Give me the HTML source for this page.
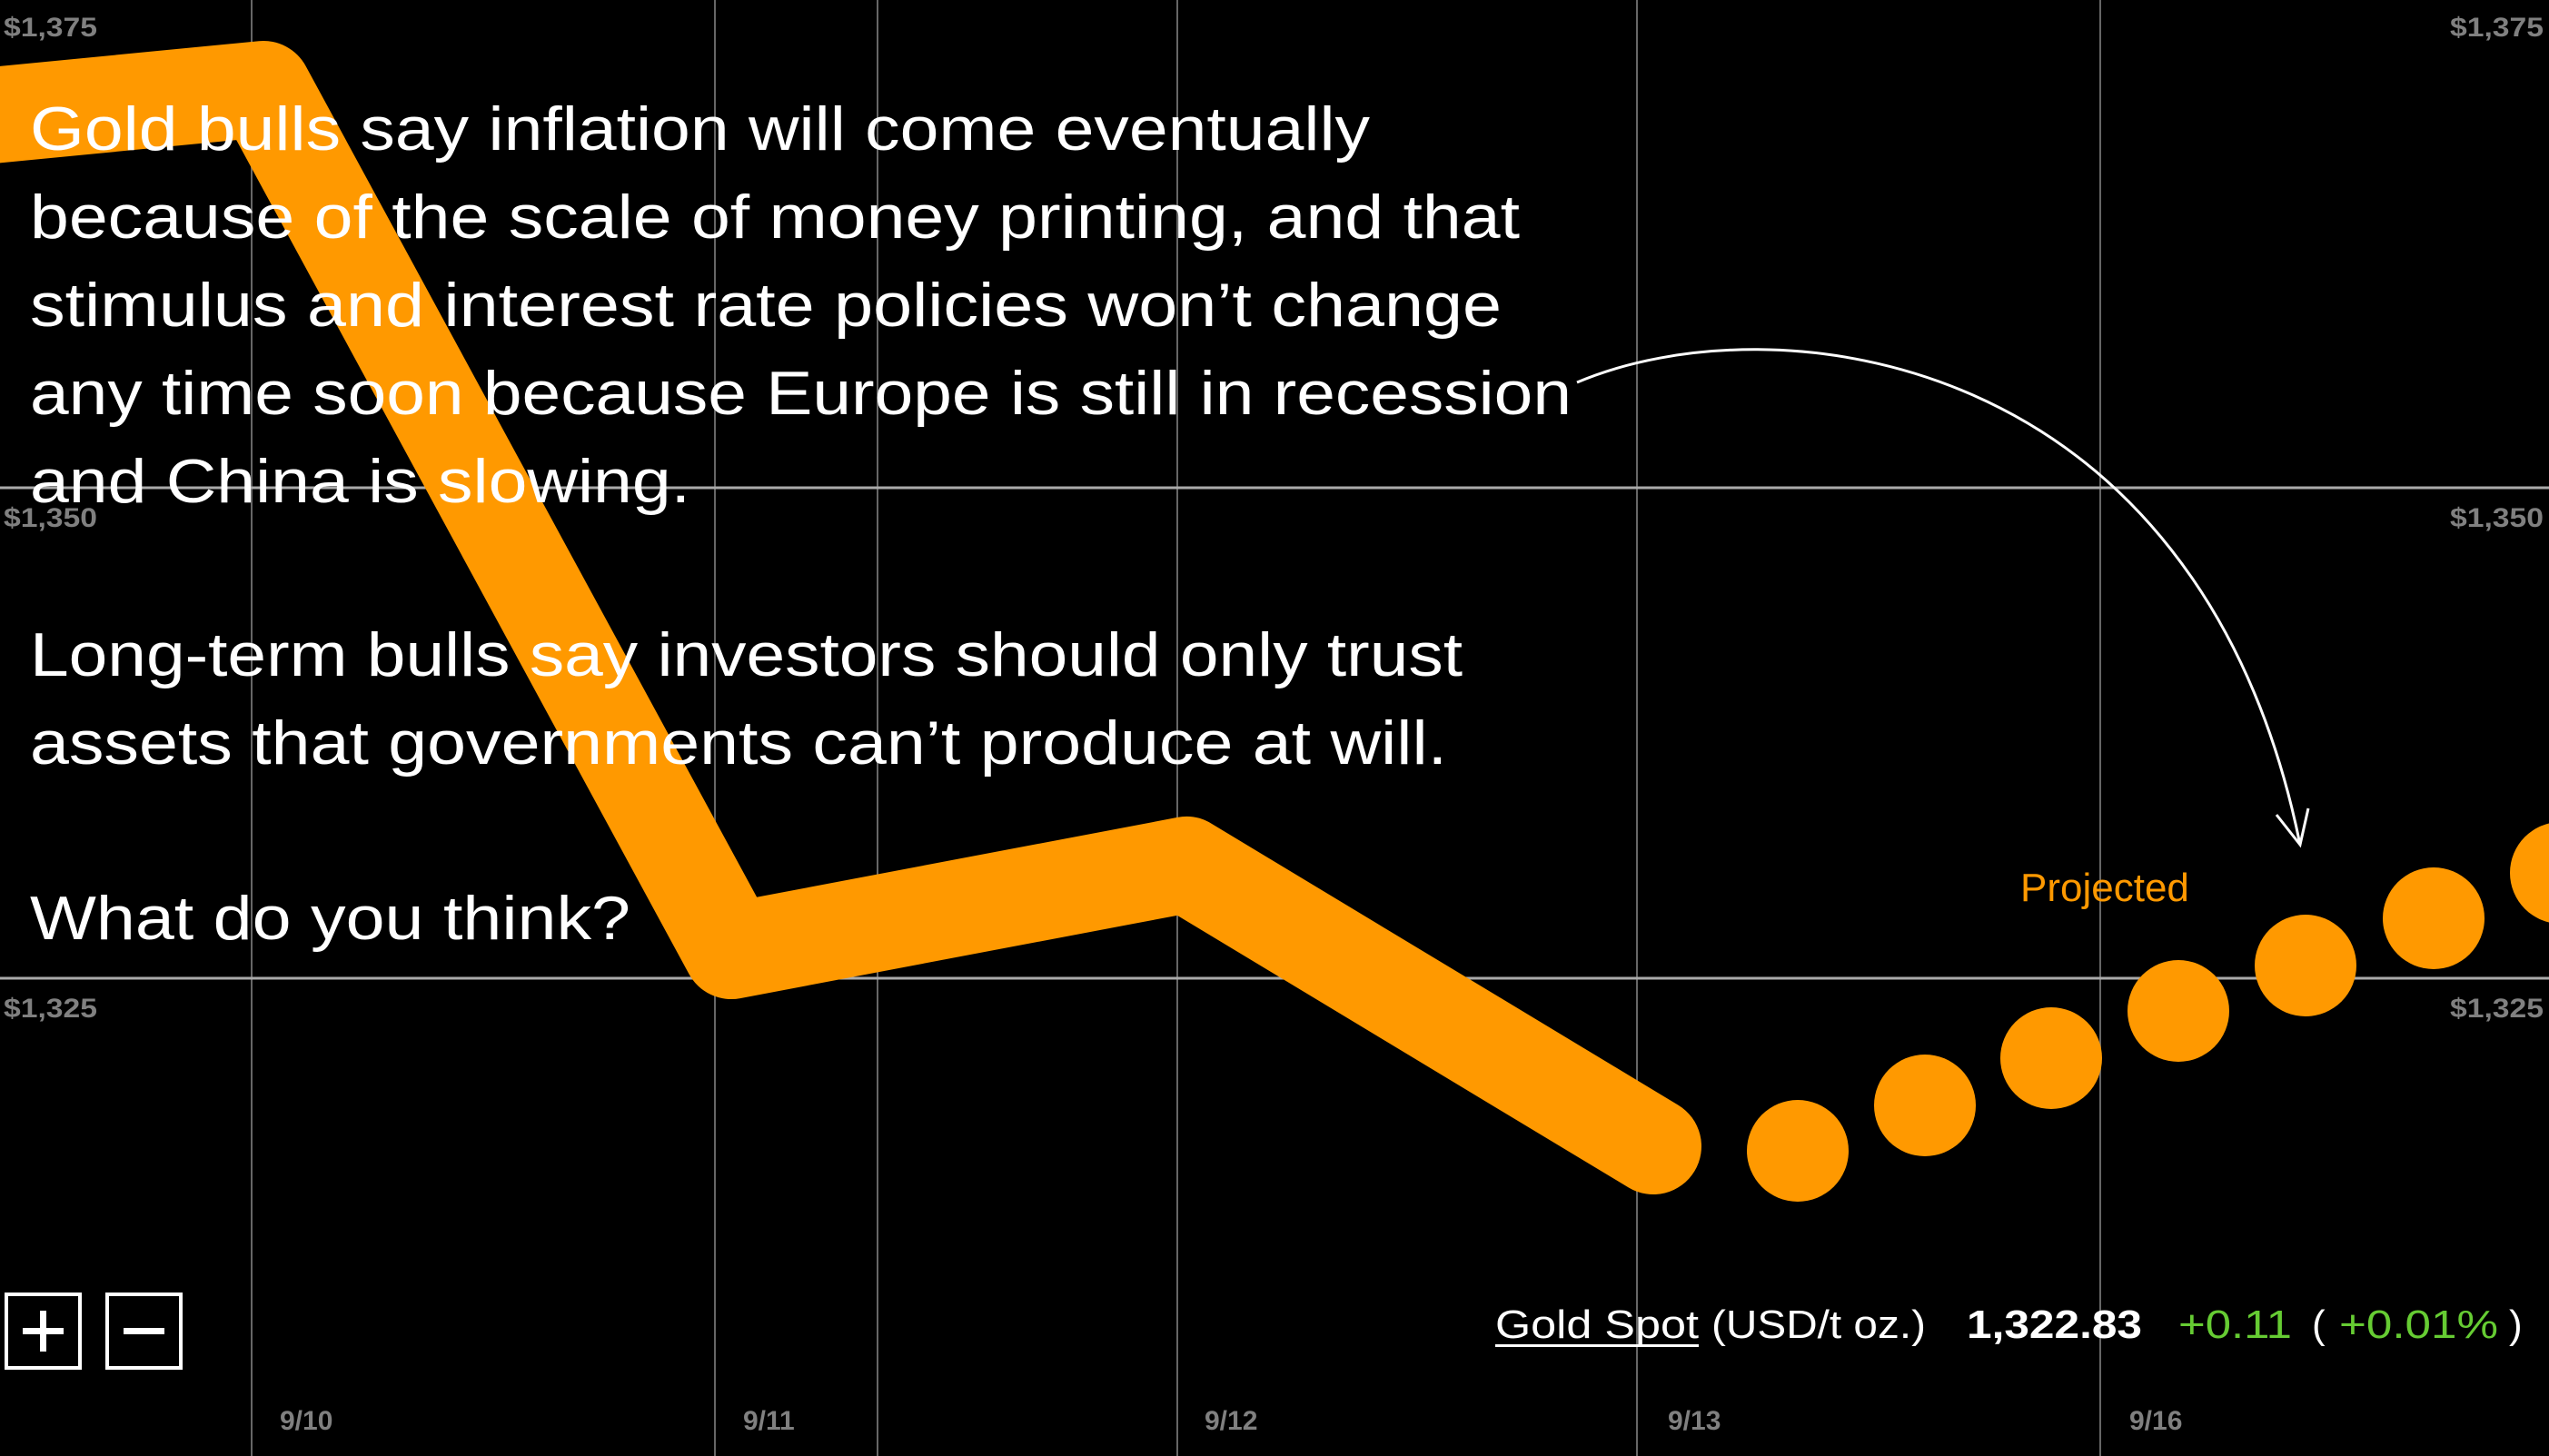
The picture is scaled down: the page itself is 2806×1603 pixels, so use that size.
<!DOCTYPE html>
<html><head><style>html,body{margin:0;padding:0;background:#000;}svg{display:block}</style></head>
<body>
<svg width="2806" height="1603" xmlns="http://www.w3.org/2000/svg" font-family="Liberation Sans, sans-serif">
<rect width="2806" height="1603" fill="#000"/>
<g stroke="#666" stroke-width="2">
<line x1="277" y1="0" x2="277" y2="1603"/><line x1="787" y1="0" x2="787" y2="1603"/>
<line x1="966" y1="0" x2="966" y2="1603"/><line x1="1296" y1="0" x2="1296" y2="1603"/>
<line x1="1802" y1="0" x2="1802" y2="1603"/><line x1="2312" y1="0" x2="2312" y2="1603"/>
</g>
<g stroke="#aaa" stroke-width="3">
<line x1="0" y1="537" x2="2806" y2="537"/><line x1="0" y1="1077" x2="2806" y2="1077"/>
</g>
<g fill="#808080" font-weight="bold" font-size="30">
<text x="4" y="40" textLength="103" lengthAdjust="spacingAndGlyphs">$1,375</text><text x="2697" y="40" textLength="103" lengthAdjust="spacingAndGlyphs">$1,375</text>
<text x="4" y="580" textLength="103" lengthAdjust="spacingAndGlyphs">$1,350</text><text x="2697" y="580" textLength="103" lengthAdjust="spacingAndGlyphs">$1,350</text>
<text x="4" y="1120" textLength="103" lengthAdjust="spacingAndGlyphs">$1,325</text><text x="2697" y="1120" textLength="103" lengthAdjust="spacingAndGlyphs">$1,325</text>
<text x="308" y="1574">9/10</text><text x="818" y="1574">9/11</text><text x="1326" y="1574">9/12</text><text x="1836" y="1574">9/13</text><text x="2344" y="1574">9/16</text>
</g>
<polyline points="-40,130 290,98 805,1047 1306,952 1820,1262" fill="none" stroke="#ff9900" stroke-width="106" stroke-linejoin="round" stroke-linecap="round"/>
<g fill="#ff9900">
<circle cx="1979" cy="1267" r="56"/><circle cx="2119" cy="1217" r="56"/><circle cx="2258" cy="1165" r="56"/>
<circle cx="2398" cy="1113" r="56"/><circle cx="2538" cy="1063" r="56"/><circle cx="2679" cy="1011" r="56"/>
<circle cx="2819" cy="961" r="56"/>
</g>
<text x="2224" y="992" fill="#ff9900" font-size="44">Projected</text>
<path d="M1736 421 C1950 330 2420 380 2532 930" fill="none" stroke="#fff" stroke-width="3"/>
<polyline points="2506,897 2532,930 2541,890" fill="none" stroke="#fff" stroke-width="3"/>
<g fill="#fff" font-size="68">
<text x="33" y="165" textLength="1475" lengthAdjust="spacingAndGlyphs">Gold bulls say inflation will come eventually</text>
<text x="33" y="262" textLength="1640" lengthAdjust="spacingAndGlyphs">because of the scale of money printing, and that</text>
<text x="33" y="359" textLength="1620" lengthAdjust="spacingAndGlyphs">stimulus and interest rate policies won’t change</text>
<text x="33" y="456" textLength="1697" lengthAdjust="spacingAndGlyphs">any time soon because Europe is still in recession</text>
<text x="33" y="553" textLength="727" lengthAdjust="spacingAndGlyphs">and China is slowing.</text>
<text x="33" y="744" textLength="1577" lengthAdjust="spacingAndGlyphs">Long-term bulls say investors should only trust</text>
<text x="33" y="841" textLength="1560" lengthAdjust="spacingAndGlyphs">assets that governments can’t produce at will.</text>
<text x="33" y="1034" textLength="661" lengthAdjust="spacingAndGlyphs">What do you think?</text>
</g>
<g fill="none" stroke="#fff" stroke-width="4">
<rect x="7" y="1425" width="81" height="81"/><rect x="118" y="1425" width="81" height="81"/>
</g>
<g fill="#fff">
<rect x="25" y="1462" width="45" height="7"/><rect x="44" y="1443" width="7" height="45"/>
<rect x="136" y="1462" width="45" height="7"/>
</g>
<g font-size="44">
<text x="1646" y="1473" fill="#fff" textLength="224" lengthAdjust="spacingAndGlyphs">Gold Spot</text>
<rect x="1646" y="1480" width="224" height="3" fill="#fff"/>
<text x="1884" y="1473" fill="#fff" textLength="236" lengthAdjust="spacingAndGlyphs">(USD/t oz.)</text>
<text x="2165" y="1473" fill="#fff" font-weight="bold" textLength="193" lengthAdjust="spacingAndGlyphs">1,322.83</text>
<text x="2398" y="1473" fill="#66cc33" textLength="125" lengthAdjust="spacingAndGlyphs">+0.11</text>
<text x="2545" y="1473" fill="#fff">(</text>
<text x="2575" y="1473" fill="#66cc33" textLength="175" lengthAdjust="spacingAndGlyphs">+0.01%</text>
<text x="2762" y="1473" fill="#fff">)</text>
</g>
</svg>
</body></html>
